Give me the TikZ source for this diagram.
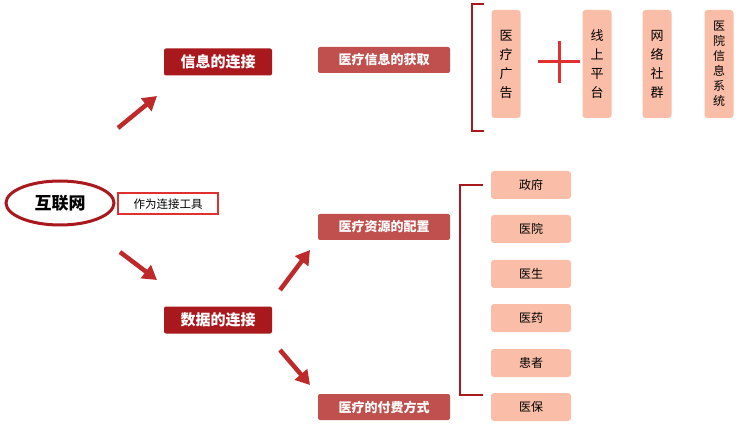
\documentclass[tikz,border=0pt]{standalone}
\usepackage{fontspec}
\setmainfont{Noto Sans CJK SC}
\usetikzlibrary{shapes.geometric,arrows.meta}
\definecolor{darkred}{HTML}{A8181C}
\definecolor{midred}{HTML}{C0504D}
\definecolor{salmon}{HTML}{F9BDA8}
\definecolor{brightred}{HTML}{E03030}
\tikzset{
  mainbox/.style={fill=darkred,text=white,font=\bfseries\fontsize{15}{17}\selectfont,rounded corners=2pt,minimum width=108pt,minimum height=27pt,inner sep=0pt},
  subbox/.style={fill=midred,text=white,font=\bfseries\fontsize{13}{15}\selectfont,rounded corners=2pt,minimum width=132pt,minimum height=26pt,inner sep=0pt},
  itembox/.style={fill=salmon,rounded corners=3pt,minimum width=80pt,minimum height=28pt,font=\fontsize{12}{14}\selectfont,inner sep=0pt},
  vbox/.style={fill=salmon,rounded corners=3pt,minimum width=29pt,minimum height=108pt,inner sep=0pt,align=center},
  bigarrow/.style={-{Triangle[length=14pt,width=16pt]},line width=4.5pt,brightred!85!black},
  bracket/.style={line width=2pt,darkred}
}
\begin{document}
\begin{tikzpicture}[x=1pt,y=-1pt]
\useasboundingbox (0,0) rectangle (736,430);
% left side
\node[ellipse,draw=darkred,line width=3pt,fill=white,minimum width=108pt,minimum height=44pt,font=\bfseries\fontsize{17}{19}\selectfont] (net) at (60,203) {互联网};
\node[draw=brightred,line width=2pt,fill=white,minimum width=100pt,minimum height=21pt,inner sep=0pt,font=\fontsize{11.5}{13}\selectfont] (tool) at (168,204) {作为连接工具};
\node[mainbox] (info) at (218,62) {信息的连接};
\node[mainbox] (data) at (218,320) {数据的连接};
\node[subbox] (get) at (384,60) {医疗信息的获取};
\node[subbox] (res) at (384,227) {医疗资源的配置};
\node[subbox] (pay) at (384,407) {医疗的付费方式};
% arrows
\coordinate (a1) at (118,128); \coordinate (b1) at (157,96);
\coordinate (a2) at (120,252); \coordinate (b2) at (157,280);
\coordinate (a3) at (280,290); \coordinate (b3) at (310,250);
\coordinate (a4) at (280,350); \coordinate (b4) at (310,385);
\draw[bigarrow] (a1) -- (b1);
\draw[bigarrow] (a2) -- (b2);
\draw[bigarrow] (a3) -- (b3);
\draw[bigarrow] (a4) -- (b4);
% top bracket and items
\draw[bracket] (484,4) -- (472,4) -- (472,131) -- (484,131);
\node[vbox,font=\fontsize{13}{15}\selectfont] (ad) at (506,64) {医\\[4pt]疗\\[4pt]广\\[4pt]告};
\node[vbox,font=\fontsize{13}{15}\selectfont] (online) at (597,64) {线\\[4pt]上\\[4pt]平\\[4pt]台};
\node[vbox,font=\fontsize{13}{15}\selectfont] (social) at (657,64) {网\\[4pt]络\\[4pt]社\\[4pt]群};
\node[vbox,font=\fontsize{12}{15}\selectfont] (his) at (719,64) {医\\院\\信\\息\\系\\统};
\draw[brightred,line width=3pt] (538,62) -- (580,62) (559,41) -- (559,83);
% right bracket and items
\draw[bracket] (483,185) -- (460,185) -- (460,395) -- (483,395);
\foreach \name/\txt/\y in {gov/政府/185, hosp/医院/229, doc/医生/274, drug/医药/318, pat/患者/363, ins/医保/407}
  \node[itembox] (\name) at (531,\y) {\txt};
\end{tikzpicture}
\end{document}
